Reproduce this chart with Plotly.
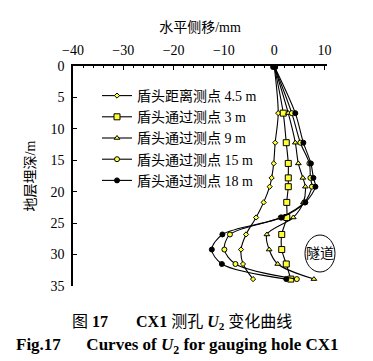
import plotly.graph_objects as go

depth = [0, 7.5, 12.2, 15.5, 17.8, 19.2, 21.7, 24.1, 26.8, 29.2, 31.5, 33.9]
u_45 = [0, 0.8, 0.2, -0.1, -0.5, -0.9, -2.1, -3.6, -5.6, -6.6, -6.2, -4.2]
u_3 = [0, 1.8, 2.4, 2.8, 2.8, 2.8, 2.5, 2.5, 1.5, 1.5, 2.4, 3.3]
u_9 = [0, 2.8, 4.2, 4.8, 5.7, 6.2, 5.8, 3.8, -1.45, -1.0, 0.7, 7.9]
u_15 = [0, 3.5, 5.2, 7.0, 7.2, 7.5, 6.0, 1.3, -8.8, -9.9, -7.7, 4.5]
u_18 = [0, 4.2, 5.8, 7.3, 7.8, 8.2, 6.2, 1.5, -10.3, -12.4, -10.4, 2.4]

names = ["盾头距离测点 4.5 m", "盾头通过测点 3 m", "盾头通过测点 9 m",
         "盾头通过测点 15 m", "盾头通过测点 18 m"]
series = [u_45, u_3, u_9, u_15, u_18]
xticks = [-40, -30, -20, -10, 0, 10]
yticks = [0, 5, 10, 15, 20, 25, 30, 35]

YEL = "#ffff33"
styles = [
    dict(symbol="diamond", size=4, color=YEL),
    dict(symbol="square", size=6, color=YEL),
    dict(symbol="triangle-up", size=5, color=YEL),
    dict(symbol="circle", size=5, color=YEL),
    dict(symbol="circle", size=5, color="black"),
]

SERIF = "Liberation Serif, Noto Sans CJK SC"
CJK = "Liberation Serif, Noto Sans CJK SC"

fig = go.Figure()
for name, vals, st in zip(names, series, styles):
    fig.add_trace(go.Scatter(
        x=vals, y=depth, name=name, mode="lines+markers",
        line=dict(color="black", width=1.1, shape="spline", smoothing=0.9),
        marker=dict(symbol=st["symbol"], size=st["size"], color=st["color"],
                    line=dict(color="black", width=1)),
    ))
fig.add_trace(go.Scatter(x=[u_18[0]], y=[depth[0]], mode="markers", showlegend=False,
                         marker=dict(size=8, color="black"), hoverinfo="skip"))

L, R, T, B = 73, 46, 66, 75
W, H = 373, 361
pw, ph = W - L - R, H - T - B

def px(xp):
    return (xp - L) / pw

def py(yp):
    return (H - B - yp) / ph

NB = "&nbsp;"
fig.update_layout(
    width=W, height=H,
    margin=dict(l=L, r=R, t=T, b=B, autoexpand=False),
    paper_bgcolor="white", plot_bgcolor="white",
    font=dict(family=SERIF, size=14, color="black"),
    showlegend=True,
    legend=dict(x=px(97), y=py(80), xanchor="left", yanchor="top",
                bgcolor="rgba(0,0,0,0)", font=dict(family=CJK, size=14),
                tracegroupgap=0, itemwidth=30),
    xaxis=dict(side="top", range=[-40, 10.5], tickvals=xticks, automargin=False,
               ticks="inside", ticklen=4, tickwidth=1, tickcolor="black",
               showline=True, linewidth=2, linecolor="black",
               showgrid=False, zeroline=False, ticklabelstandoff=3,
               minor=dict(dtick=2, ticks="inside", ticklen=2, tickcolor="black"),
               tickfont=dict(size=14, family=SERIF),
               title=dict(text="水平侧移/mm", font=dict(size=14, family=CJK), standoff=8)),
    yaxis=dict(range=[35, 0], tickvals=yticks, automargin=False,
               ticks="inside", ticklen=4, tickwidth=1, tickcolor="black",
               showline=True, linewidth=1.5, linecolor="black",
               showgrid=False, zeroline=False, ticklabelstandoff=4,
               tickfont=dict(size=14, family=SERIF),
               title=dict(text="地层埋深/m", font=dict(size=14, family=CJK), standoff=12)),
    shapes=[dict(type="circle", xref="paper", yref="paper",
                 x0=px(305), x1=px(335), y0=py(272), y1=py(235),
                 line=dict(color="black", width=1))],
    annotations=[
        dict(text="隧道", xref="paper", yref="paper", x=px(320), y=py(253.5),
             xanchor="center", yanchor="middle",
             showarrow=False, font=dict(size=14, family=CJK)),
        dict(text="图" + NB + "<b>17</b>" + NB * 7 + "<b>CX1</b> 测孔" + NB + "<b><i>U</i><sub>2</sub></b> 变化曲线",
             xref="paper", yref="paper", x=px(182), y=py(322),
             xanchor="center", yanchor="middle",
             showarrow=False, font=dict(size=16, family=CJK)),
        dict(text="<b>Fig.17" + NB * 6 + "Curves of <i>U</i><sub>2</sub> for gauging hole CX1</b>",
             xref="paper", yref="paper", x=px(177), y=py(346),
             xanchor="center", yanchor="middle",
             showarrow=False, font=dict(size=17, family="Liberation Serif")),
    ],
)

fig.write_html("out.html", config={"displayModeBar": False},
               post_script="document.body.style.margin='0';document.body.style.overflow='hidden';")
